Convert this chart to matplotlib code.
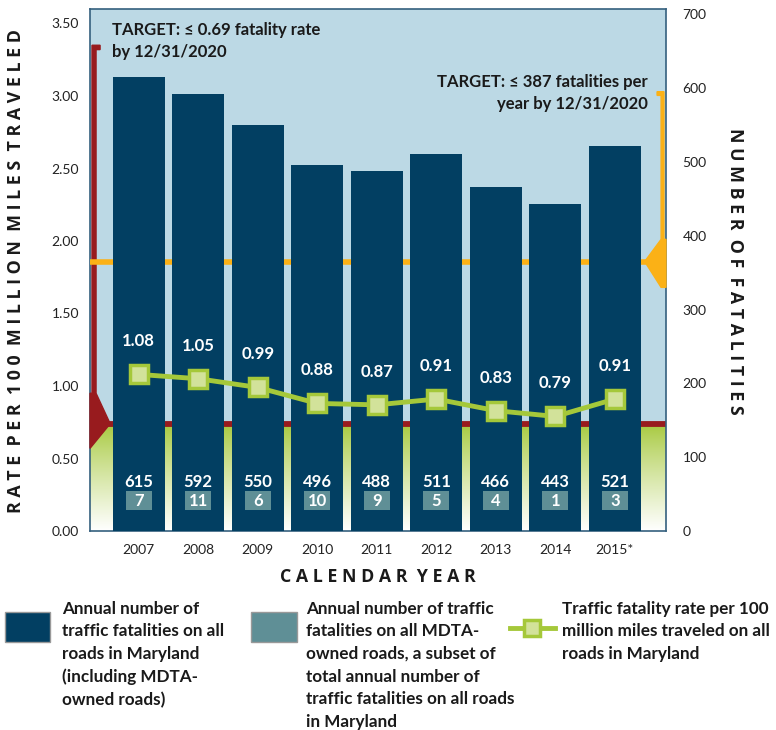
import matplotlib
matplotlib.use("Agg")
import matplotlib.pyplot as plt
import matplotlib.patches as mpatches
from matplotlib.lines import Line2D
from matplotlib.colors import to_rgb
import matplotlib.transforms as mtransforms
import numpy as np

plt.rcParams['font.family'] = ['Lato', 'DejaVu Sans']

# data
years = ['2007', '2008', '2009', '2010', '2011', '2012', '2013', '2014', '2015*']
fatalities = [615, 592, 550, 496, 488, 511, 466, 443, 521]
mdta = [7, 11, 6, 10, 9, 5, 4, 1, 3]
rate = [1.08, 1.05, 0.99, 0.88, 0.87, 0.91, 0.83, 0.79, 0.91]
rate_target_line = 0.74      # drawn level of the rate target marker
count_target_line = 365      # drawn level of the fatality target marker

NAVY = '#023f62'
TEAL = '#5f8f96'
LBLUE = '#bcd9e5'
GREEN = '#a5c83a'
GREEN_FACE = '#d2e29a'
RED = '#981b1e'
ORANGE = '#fbb116'
INK = '#1a1a1a'

fig = plt.figure(figsize=(7.76, 7.30), dpi=100)
ax = fig.add_axes([90/776, 199/730, 576/776, 522/730])
x = np.arange(len(years))
xlim = (-0.82, len(years) - 1 + 0.86)

# background: light blue with green gradient below the rate target
ax.set_facecolor(LBLUE)
ax.set_xlim(*xlim)
ax.set_ylim(0, 3.6)
n = 200
t = np.linspace(0, 1, n)[:, None]  # 0 at top, 1 at bottom
g = np.array(to_rgb(GREEN))
w = np.array([1, 1, 1])
mix = np.clip(t ** 0.85, 0, 1)
grad = (1 - mix) * g + mix * w
grad = np.repeat(grad[:, None, :], 2, axis=1)
ax.imshow(grad, extent=[xlim[0], xlim[1], 0, rate_target_line], aspect='auto',
          origin='upper', zorder=0)
ax.axhline(rate_target_line, color=RED, lw=4.2, zorder=1)

# red target bracket on the left
trans_l = mtransforms.blended_transform_factory(ax.transAxes, ax.transData)
ax.add_patch(mpatches.Polygon([[0.0035, 3.35], [0.0175, 3.35], [0.0175, 3.32], [0.0105, 3.32],
                               [0.0105, 0.95], [0.035, rate_target_line], [0.0, 0.57],
                               [0.0, 0.95], [0.0035, 0.95]],
                              closed=True, color=RED, transform=trans_l, zorder=3, clip_on=False))

ax.set_yticks(np.arange(0, 3.51, 0.5))
ax.set_yticklabels([f'{v:.2f}' for v in np.arange(0, 3.51, 0.5)])
ax.tick_params(axis='y', length=0, labelsize=10, pad=8, colors='#222222')
ax.set_xticks(x)
ax.set_xticklabels(years)
ax.tick_params(axis='x', length=0, labelsize=10, pad=9, colors='#222222')
for s in ax.spines.values():
    s.set_color('#35607e')
    s.set_linewidth(1.2)

# fatality counts on the right axis
axc = ax.twinx()
axc.set_ylim(0, 707)
axc.set_xlim(*xlim)
axc.axhline(count_target_line, color=ORANGE, lw=4, zorder=1)
trans_r = mtransforms.blended_transform_factory(axc.transAxes, axc.transData)
axc.add_patch(mpatches.Polygon([[0.9965, 595], [0.9845, 595], [0.9845, 590], [0.9915, 590],
                                [0.9915, 395], [0.963, count_target_line], [0.9915, 330],
                                [1.0, 330], [1.0, 395], [0.9965, 395]],
                               closed=True, color=ORANGE, transform=trans_r, zorder=3, clip_on=False))
axc.bar(x, fatalities, width=0.87, color=NAVY, zorder=2)
axc.set_yticks(np.arange(0, 701, 100))
axc.tick_params(axis='y', length=0, labelsize=10, pad=12, colors='#222222')
for s in axc.spines.values():
    s.set_visible(False)

trans_b = axc.get_xaxis_transform()
for xi, f, m in zip(x, fatalities, mdta):
    axc.text(xi, 0.094, f'{f}', transform=trans_b, ha='center', va='center',
             color='white', fontsize=12, fontweight='bold', zorder=5)
    axc.add_patch(mpatches.Rectangle((xi - 0.22, 0.040), 0.44, 0.037, transform=trans_b,
                                     fc=TEAL, ec='none', zorder=4))
    axc.text(xi, 0.058, f'{m}', transform=trans_b, ha='center', va='center',
             color='white', fontsize=12, fontweight='bold', zorder=5)

# rate line on top
axl = ax.twinx()
axl.set_ylim(0, 3.6)
axl.set_xlim(*xlim)
axl.axis('off')
axl.plot(x, rate, color=GREEN, lw=3.5, marker='s', markersize=13, markerfacecolor=GREEN_FACE,
         markeredgecolor=GREEN, markeredgewidth=2.5, zorder=4)
for xi, r in zip(x, rate):
    axl.annotate(f'{r:.2f}', (xi, r), xytext=(0, 18), textcoords='offset points',
                 ha='center', va='bottom', color='white', fontsize=12, fontweight='bold')

# target annotations
fig.text(112/776, 1 - 41/730, 'TARGET: \u2264 0.69 fatality rate\nby 12/31/2020',
         ha='left', va='center', fontsize=12, fontweight='bold', color=INK, linespacing=1.5)
fig.text(648/776, 1 - 93/730, 'TARGET: \u2264 387 fatalities per\nyear by 12/31/2020',
         ha='right', va='center', fontsize=12, fontweight='bold', color=INK, linespacing=1.5,
         multialignment='right')

def spaced(s):
    return '  '.join(' '.join(w) for w in s.split(' '))

title_font = ['Open Sans', 'DejaVu Sans']
fig.text(16/776, 1 - 271/730, spaced('RATE PER 100 MILLION MILES TRAVELED'), rotation=90,
         ha='center', va='center', fontsize=12.8, fontweight='bold', color=INK, family=title_font)
fig.text(735/776, 1 - 271/730, spaced('NUMBER OF FATALITIES'), rotation=-90,
         ha='center', va='center', fontsize=12.8, fontweight='bold', color=INK, family=title_font)
fig.text(378/776, 1 - 577/730, spaced('CALENDAR YEAR'),
         ha='center', va='center', fontsize=12.8, fontweight='bold', color=INK, family=title_font)

# legend
leg_fs = 12.3
leg_ls = 1.5
fig.patches.append(mpatches.Rectangle((5/776, 1 - 642/730), 45/776, 30/730, transform=fig.transFigure,
                                      fc=NAVY, ec='#999999', lw=1))
fig.text(62/776, 1 - 601/730, 'Annual number of\ntraffic fatalities on all\nroads in Maryland\n(including MDTA-\nowned roads)',
         ha='left', va='top', fontsize=leg_fs, fontweight='bold', color=INK, linespacing=leg_ls)
fig.patches.append(mpatches.Rectangle((251/776, 1 - 642/730), 46/776, 30/730, transform=fig.transFigure,
                                      fc=TEAL, ec='#999999', lw=1))
fig.text(306/776, 1 - 601/730, 'Annual number of traffic\nfatalities on all MDTA-\nowned roads, a subset of\ntotal annual number of\ntraffic fatalities on all roads\nin Maryland',
         ha='left', va='top', fontsize=leg_fs, fontweight='bold', color=INK, linespacing=leg_ls)
fig.lines.append(Line2D([510/776, 532/776, 555/776], [1 - 628/730] * 3, transform=fig.transFigure,
                        color=GREEN, lw=3.5, marker='s', markersize=12, markevery=[1],
                        markerfacecolor=GREEN_FACE, markeredgecolor=GREEN, markeredgewidth=2.5))
fig.text(562/776, 1 - 601/730, 'Traffic fatality rate per 100\nmillion miles traveled on all\nroads in Maryland',
         ha='left', va='top', fontsize=leg_fs, fontweight='bold', color=INK, linespacing=leg_ls)

fig.savefig('out.png', dpi=100, facecolor='white')
